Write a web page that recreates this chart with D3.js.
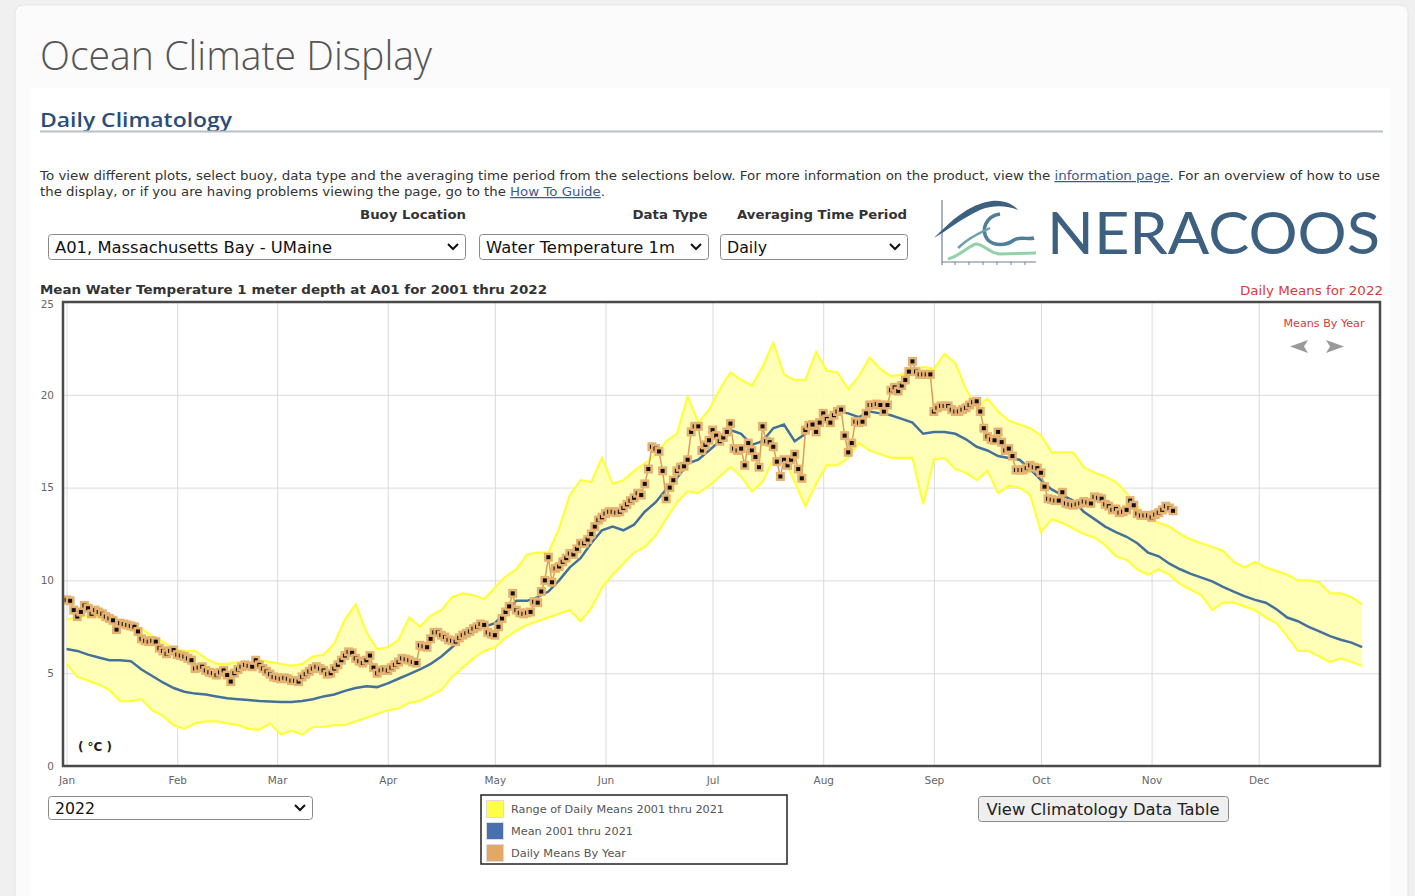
<!DOCTYPE html>
<html>
<head>
<meta charset="utf-8">
<script src="https://cdn.jsdelivr.net/npm/d3@7"></script>
<style>
  html, body { margin: 0; padding: 0; background: #f0f0f0; }
  svg { display: block; }
</style>
</head>
<body>
<svg id="page" width="1415" height="896"></svg>
<script>
// ---- data (day of year 2022, 0 = Jan 1) ----
const monthStarts = [0, 31, 59, 90, 120, 151, 181, 212, 243, 273, 304, 334];
const monthLabels = ["Jan", "Feb", "Mar", "Apr", "May", "Jun", "Jul", "Aug", "Sep", "Oct", "Nov", "Dec"];
const tempTicks = [0, 5, 10, 15, 20, 25];

// climatology 2001-2021, sampled every 3 days
const climDays = d3.range(0, 364, 3);
const rangeLow = [
  5.5, 4.8, 4.6, 4.4, 4.1, 3.5, 3.5, 3.6, 3.0, 2.7,
  2.2, 2.0, 2.3, 2.4, 2.4, 2.3, 2.2, 2.0, 1.95, 2.3,
  1.7, 1.9, 1.7, 2.1, 2.1, 2.2, 2.2, 2.4, 2.6, 2.8,
  3.0, 3.1, 3.4, 3.5, 3.8, 4.1, 4.8, 5.3, 5.8, 6.2,
  6.4, 6.9, 7.3, 7.6, 7.8, 8.0, 8.2, 8.4, 7.8, 8.5,
  9.6, 10.3, 10.9, 11.5, 11.8, 12.4, 13.3, 14.2, 14.8, 14.7,
  15.1, 15.6, 16.1, 15.6, 14.8, 15.3, 16.5, 16.6, 15.3, 14.0,
  15.2, 16.2, 16.2, 16.6, 17.4, 17.0, 16.8, 16.6, 16.6, 16.6,
  14.1, 16.5, 16.6, 16.0, 15.8, 15.4, 15.9, 14.7, 15.1, 15.0,
  14.6, 12.6, 13.3, 13.1, 12.8, 12.5, 12.3, 11.9, 11.3, 11.1,
  10.6, 10.3, 10.6, 10.3, 9.8, 9.5, 9.2, 8.4, 8.8, 8.8,
  8.6, 8.4, 8.0, 7.7, 7.0, 6.2, 6.2, 5.9, 5.6, 5.8,
  5.6, 5.4
];
const rangeHigh = [
  7.9, 8.0, 8.1, 8.0, 7.8, 7.6, 7.5, 7.4, 7.0, 6.7,
  6.3, 6.2, 6.2, 5.8, 5.5, 5.5, 5.6, 5.5, 5.7, 5.6,
  5.5, 5.4, 5.5, 5.9, 6.0, 6.6, 7.9, 8.7, 7.2, 6.3,
  6.4, 6.8, 8.0, 7.5, 8.1, 8.4, 9.1, 9.3, 9.2, 9.0,
  9.6, 10.2, 10.6, 11.4, 11.5, 11.5, 12.8, 14.6, 15.4, 15.3,
  16.6, 15.2, 15.4, 15.9, 16.3, 16.8, 17.5, 17.9, 19.9, 18.5,
  19.2, 20.3, 21.2, 20.8, 20.5, 21.5, 22.8, 21.1, 20.8, 20.8,
  22.3, 21.3, 21.2, 20.3, 21.0, 22.0, 21.4, 21.0, 21.1, 21.4,
  21.5, 21.4, 22.2, 21.7, 20.3, 19.3, 19.8, 19.1, 18.6, 18.4,
  18.2, 17.8, 16.9, 16.9, 16.9, 16.1, 15.8, 15.6, 15.3, 14.7,
  14.0, 13.3, 13.1, 12.9, 12.5, 12.2, 12.0, 11.8, 11.6, 11.0,
  10.7, 11.0, 10.7, 10.5, 10.3, 10.0, 10.0, 9.9, 9.3, 9.3,
  9.1, 8.7
];
const climMean = [
  6.3, 6.2, 6.0, 5.85, 5.7, 5.7, 5.65, 5.2, 4.85, 4.5,
  4.2, 4.0, 3.9, 3.85, 3.75, 3.65, 3.6, 3.55, 3.5, 3.47,
  3.45, 3.45, 3.5, 3.6, 3.75, 3.85, 4.05, 4.2, 4.3, 4.25,
  4.45, 4.7, 4.95, 5.2, 5.5, 5.9, 6.4, 6.9, 7.2, 7.5,
  7.7, 8.3, 8.9, 8.9, 9.1, 9.4, 10.0, 10.7, 11.2, 12.0,
  12.7, 12.9, 12.7, 13.0, 13.7, 14.2, 14.9, 15.5, 16.3, 16.5,
  17.0, 17.5, 18.1, 17.9, 17.3, 17.5, 18.2, 18.4, 17.5, 17.9,
  18.5, 18.8, 19.1, 19.0, 18.8, 19.1, 19.0, 18.9, 18.7, 18.5,
  17.9, 18.0, 18.0, 17.9, 17.6, 17.2, 17.0, 16.7, 16.6, 16.5,
  16.0, 15.4, 14.9, 14.6, 14.3, 13.7, 13.3, 12.9, 12.6, 12.35,
  12.0, 11.5, 11.3, 10.9, 10.6, 10.35, 10.15, 9.95, 9.65, 9.4,
  9.15, 8.95, 8.8, 8.45, 8.0, 7.8, 7.5, 7.25, 7.0, 6.8,
  6.65, 6.4
];

// 2022 daily means, Jan 1 to Nov 7
const yearDays = d3.range(0, 311);
const year2022 = [
  8.95, 8.9, 8.4, 8.05, 8.3, 8.65, 8.5, 8.2, 8.4, 8.3,
  8.2, 8.05, 7.95, 7.85, 7.35, 7.7, 7.65, 7.6, 7.55, 7.5,
  7.25, 6.85, 6.75, 6.7, 6.75, 6.7, 6.35, 6.2, 6.05, 6.2,
  6.25, 6.0, 5.95, 5.9, 5.8, 5.7, 5.25, 5.3, 5.35, 5.15,
  5.05, 5.0, 4.9, 5.05, 5.15, 4.9, 4.55, 5.0, 5.2, 5.35,
  5.45, 5.4, 5.35, 5.7, 5.45, 5.25, 5.1, 4.95, 4.8, 4.75,
  4.7, 4.75, 4.7, 4.6, 4.6, 4.55, 4.8, 4.95, 5.1, 5.25,
  5.35, 5.25, 5.15, 4.95, 5.0, 5.25, 5.45, 5.7, 5.95, 6.15,
  6.1, 5.8, 5.65, 5.55, 5.7, 5.95, 5.3, 5.0, 5.15, 5.2,
  5.15, 5.3, 5.45, 5.6, 5.8, 5.75, 5.7, 5.6, 5.55, 6.5,
  6.45, 6.4, 6.85, 7.2, 7.2, 7.05, 6.95, 6.8, 6.75, 6.7,
  6.9, 7.05, 7.15, 7.25, 7.4, 7.5, 7.65, 7.6, 7.2, 7.1,
  7.05, 7.5, 7.95, 8.3, 8.6, 9.3, 8.4, 8.25, 8.2, 8.25,
  8.3, 8.85, 8.8, 9.4, 10.0, 11.25, 9.9, 10.65, 10.75, 11.0,
  11.2, 11.45, 11.4, 11.7, 12.0, 12.0, 12.2, 12.5, 12.9, 13.25,
  13.4, 13.6, 13.7, 13.7, 13.65, 13.7, 13.9, 14.1, 14.3, 14.45,
  14.7, 14.6, 15.2, 16.0, 17.2, 17.1, 16.95, 15.9, 14.4, 15.0,
  15.4, 15.9, 16.1, 16.15, 16.5, 18.0, 18.3, 18.3, 17.0, 17.3,
  17.55, 18.1, 17.8, 17.5, 17.7, 18.0, 18.45, 17.1, 17.0, 17.1,
  16.2, 17.4, 17.0, 16.65, 16.1, 18.3, 17.5, 17.45, 17.2, 16.4,
  15.6, 16.5, 16.2, 16.5, 16.8, 16.0, 15.5, 18.1, 18.35, 18.4,
  18.0, 18.5, 19.0, 18.7, 18.5, 18.9, 19.1, 19.2, 17.8, 16.9,
  17.4, 18.55, 18.5, 18.55, 19.0, 19.45, 19.45, 19.5, 19.45, 19.1,
  19.45, 20.25, 20.4, 20.2, 20.5, 20.8, 21.25, 21.8, 21.25, 21.1,
  21.1, 21.1, 21.1, 19.1, 19.3, 19.4, 19.4, 19.4, 19.2, 19.1,
  19.1, 19.2, 19.3, 19.45, 19.6, 19.65, 19.1, 18.2, 17.75, 17.6,
  17.55, 18.0, 17.45, 17.0, 17.1, 16.7, 15.95, 15.95, 15.95, 16.05,
  16.2, 16.1, 16.05, 15.8, 15.05, 14.4, 14.35, 14.3, 14.3, 14.75,
  14.15, 14.1, 14.05, 14.1, 14.15, 14.25, 14.2, 14.15, 14.5, 14.45,
  14.4, 14.1, 14.0, 13.8, 13.85, 13.65, 13.7, 13.8, 14.3, 14.05,
  13.6, 13.5, 13.5, 13.5, 13.4, 13.55, 13.65, 13.8, 14.0, 13.9,
  13.75
];

const legendItems = ["Range of Daily Means 2001 thru 2021", "Mean 2001 thru 2021", "Daily Means By Year"];
const legendColors = ["#ffff45", "#4a6fae", "#e3a866"];

// ---- page ----
const svg = d3.select("#page");
const sans = "'DejaVu Sans', Verdana, sans-serif";

svg.append("rect").attr("x", 15).attr("y", 5).attr("width", 1393).attr("height", 905)
  .attr("rx", 8).attr("fill", "#fbfbfb").attr("stroke", "#e4e4e4");
svg.append("rect").attr("x", 30).attr("y", 88).attr("width", 1360).attr("height", 820)
  .attr("fill", "#ffffff");

function label(x, y, s, size, opts = {}) {
  const t = svg.append("text")
    .attr("x", x).attr("y", y)
    .attr("font-family", opts.font || sans)
    .attr("font-size", size)
    .attr("font-weight", opts.weight || "normal")
    .attr("fill", opts.color || "#333")
    .attr("text-anchor", opts.anchor || "start")
    .text(s);
  if (opts.len) t.attr("textLength", opts.len).attr("lengthAdjust", "spacingAndGlyphs");
  return t;
}

label(40, 70, "Ocean Climate Display", 40, { font: "'Open Sans', sans-serif", weight: 300, color: "#555", len: 392 });
label(40, 127, "Daily Climatology", 20, { font: "'Open Sans', sans-serif", weight: 600, color: "#2b4d77", len: 192 });
svg.append("line").attr("x1", 40).attr("x2", 1383).attr("y1", 131.5).attr("y2", 131.5)
  .attr("stroke", "#b9c0c8").attr("stroke-width", 2);

// intro paragraph
const p1 = label(40, 180, "", 12.5, { color: "#333", len: 1340 });
p1.append("tspan").text("To view different plots, select buoy, data type and the averaging time period from the selections below. For more information on the product, view the ");
p1.append("tspan").attr("fill", "#3a5b8c").attr("text-decoration", "underline").text("information page");
p1.append("tspan").text(". For an overview of how to use");
const p2 = label(40, 196, "", 12.5, { color: "#333", len: 565 });
p2.append("tspan").text("the display, or if you are having problems viewing the page, go to the ");
p2.append("tspan").attr("fill", "#3a5b8c").attr("text-decoration", "underline").text("How To Guide");
p2.append("tspan").text(".");

label(413, 219, "Buoy Location", 12.5, { weight: "bold", anchor: "middle", len: 106 });
label(670, 219, "Data Type", 12.5, { weight: "bold", anchor: "middle", len: 75 });
label(822, 219, "Averaging Time Period", 12.5, { weight: "bold", anchor: "middle", len: 170 });

function selectBox(x, y, w, h, s, len) {
  svg.append("rect").attr("x", x + 0.5).attr("y", y + 0.5).attr("width", w).attr("height", h)
    .attr("rx", 3).attr("fill", "#fff").attr("stroke", "#8a8a8a");
  label(x + 7, y + h / 2 + 6, s, 16, { color: "#111", len: len });
  svg.append("path")
    .attr("d", `M${x + w - 17},${y + h / 2 - 2.5} l5,5 l5,-5`)
    .attr("fill", "none").attr("stroke", "#111").attr("stroke-width", 2);
}
selectBox(48, 234, 417, 25, "A01, Massachusetts Bay - UMaine", 277);
selectBox(479, 234, 229, 25, "Water Temperature 1m", 189);
selectBox(720, 234, 187, 25, "Daily", 40);
selectBox(48, 796, 264, 23, "2022", 40);

// logo
const logo = svg.append("g");
logo.append("line").attr("x1", 942).attr("x2", 942).attr("y1", 200).attr("y2", 265)
  .attr("stroke", "#6d8299").attr("stroke-width", 1.2);
logo.append("line").attr("x1", 942).attr("x2", 1036).attr("y1", 262).attr("y2", 262)
  .attr("stroke", "#6d8299").attr("stroke-width", 1.2);
logo.selectAll("line.tick").data(d3.range(955, 1036, 14)).join("line")
  .attr("x1", d => d).attr("x2", d => d).attr("y1", 262).attr("y2", 265)
  .attr("stroke", "#6d8299");
logo.append("path")
  .attr("d", "M934,238 C950,222 968,204 992,201 C1004,200 1013,204 1018,210 C1006,205 992,205 980,210 C962,218 948,230 934,238 Z")
  .attr("fill", "#3d5f80");
logo.append("path")
  .attr("d", "M1000,214 C986,216 980,230 988,240 C994,246 1006,246 1014,240 C1020,236 1028,240 1034,238")
  .attr("fill", "none").attr("stroke", "#4f7f99").attr("stroke-width", 3.5);
logo.append("path")
  .attr("d", "M958,248 C970,236 982,232 990,228")
  .attr("fill", "none").attr("stroke", "#6fa0b0").attr("stroke-width", 2.5);
logo.append("path")
  .attr("d", "M948,259 C960,256 968,246 976,244 C984,244 990,254 1000,254 L1036,253")
  .attr("fill", "none").attr("stroke", "#93d2a6").attr("stroke-width", 3);
label(1047, 254, "NERACOOS", 58, { font: "Lato, 'Noto Sans', sans-serif", color: "#3d5f80", len: 333 });

// ---- chart ----
label(40, 294, "Mean Water Temperature 1 meter depth at A01 for 2001 thru 2022", 12.5, { weight: "bold", color: "#333", len: 507 });
label(1383, 295, "Daily Means for 2022", 13, { color: "#d43b3b", anchor: "end", len: 143 });

const plotLeft = 63, plotRight = 1380, plotTop = 302, plotBottom = 766;
const x = d3.scaleLinear().domain([-1, 368]).range([plotLeft, plotRight]);
const y = d3.scaleLinear().domain([0, 25]).range([plotBottom, plotTop]);

const plot = svg.append("g");
plot.append("rect").attr("x", plotLeft).attr("y", plotTop)
  .attr("width", plotRight - plotLeft).attr("height", plotBottom - plotTop)
  .attr("fill", "#fff");

const xGrid = plot.append("g").attr("transform", `translate(0,${plotBottom})`)
  .call(d3.axisBottom(x).tickValues(monthStarts).tickSize(-(plotBottom - plotTop))
    .tickFormat((d, i) => monthLabels[i]));
xGrid.select(".domain").remove();
xGrid.selectAll("line").attr("stroke", "#dadada");
xGrid.selectAll("text").attr("y", 11).attr("dy", "0.71em")
  .attr("font-family", sans).attr("font-size", 10.5).attr("fill", "#666");

const yGrid = plot.append("g").attr("transform", `translate(${plotLeft},0)`)
  .call(d3.axisLeft(y).tickValues(tempTicks).tickSize(-(plotRight - plotLeft)).tickPadding(9));
yGrid.select(".domain").remove();
yGrid.selectAll("line").attr("stroke", (d) => (d === 0 || d === 25) ? "none" : "#dadada");
yGrid.selectAll("text").attr("font-family", sans).attr("font-size", 10.5).attr("fill", "#666");
yGrid.selectAll("text").filter(d => d === 25).attr("dy", "0.55em");

// range band
const band = d3.area()
  .x((d, i) => x(climDays[i]))
  .y0((d, i) => y(rangeLow[i]))
  .y1((d, i) => y(rangeHigh[i]));
plot.append("path").datum(climDays).attr("d", band).attr("fill", "#ffffb0").attr("opacity", 0.9);

const edge = (vals) => d3.line().x((d, i) => x(climDays[i])).y((d, i) => y(vals[i]));
plot.append("path").datum(climDays).attr("d", edge(rangeLow))
  .attr("fill", "none").attr("stroke", "#ffff3a").attr("stroke-width", 2.2);
plot.append("path").datum(climDays).attr("d", edge(rangeHigh))
  .attr("fill", "none").attr("stroke", "#ffff3a").attr("stroke-width", 2.2);

// mean
plot.append("path").datum(climDays).attr("d", edge(climMean))
  .attr("fill", "none").attr("stroke", "#44709c").attr("stroke-width", 2.5);

// 2022
const yearLine = d3.line().x((d, i) => x(yearDays[i])).y((d, i) => y(year2022[i]));
plot.append("path").datum(yearDays).attr("d", yearLine)
  .attr("fill", "none").attr("stroke", "#d99c5c").attr("stroke-width", 1.5);
const marks = plot.append("g").selectAll("g").data(year2022).join("g")
  .attr("transform", (d, i) => `translate(${x(yearDays[i])},${y(d)})`);
marks.append("rect").attr("x", -4.5).attr("y", -4.5).attr("width", 9).attr("height", 9)
  .attr("fill", "#e6b272");
marks.append("rect").attr("x", -2).attr("y", -2).attr("width", 4).attr("height", 4)
  .attr("fill", "#111");

// frame
plot.append("rect").attr("x", plotLeft).attr("y", plotTop)
  .attr("width", plotRight - plotLeft).attr("height", plotBottom - plotTop)
  .attr("fill", "none").attr("stroke", "#4a4a4a").attr("stroke-width", 2.5);

label(78, 751, "( °C )", 12, { weight: "bold", color: "#222", len: 34 });
label(1324, 327, "Means By Year", 10.5, { color: "#d43b3b", anchor: "middle", len: 81 });
svg.append("path").attr("d", "M1290,346.5 L1308,340 L1304,346.5 L1308,353 Z").attr("fill", "#9a9a9a");
svg.append("path").attr("d", "M1344,346.5 L1326,340 L1330,346.5 L1326,353 Z").attr("fill", "#9a9a9a");

// legend
const legend = svg.append("g");
legend.append("rect").attr("x", 481).attr("y", 795).attr("width", 306).attr("height", 69)
  .attr("fill", "#fff").attr("stroke", "#222").attr("stroke-width", 1.5);
const legendLens = [213, 122, 115];
legendItems.forEach((s, i) => {
  legend.append("rect").attr("x", 486.5).attr("y", 800.5 + i * 22).attr("width", 17).attr("height", 17)
    .attr("fill", legendColors[i]).attr("stroke", "#dcdcdc");
  label(511, 813 + i * 22, s, 11, { color: "#555", len: legendLens[i] });
});

// button
svg.append("rect").attr("x", 978.5).attr("y", 796.5).attr("width", 250).attr("height", 25)
  .attr("rx", 3).attr("fill", "#efefef").attr("stroke", "#8a8a8a");
label(1103, 815, "View Climatology Data Table", 16, { color: "#222", anchor: "middle", len: 233 });
</script>
</body>
</html>
